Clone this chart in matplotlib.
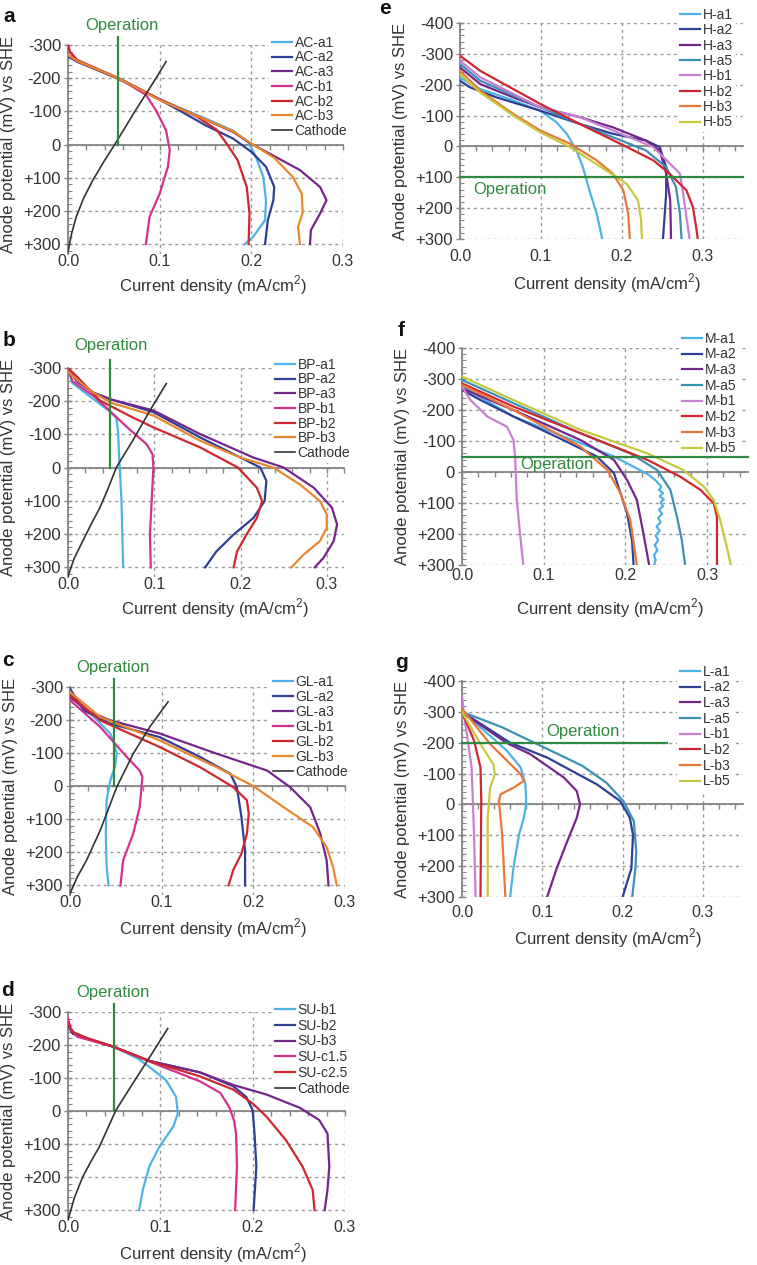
import matplotlib.pyplot as plt
from matplotlib.ticker import MultipleLocator

plt.rcParams['font.family'] = ['Liberation Sans', 'DejaVu Sans']
plt.rcParams['mathtext.fontset'] = 'custom'
plt.rcParams['mathtext.rm'] = 'Liberation Sans'

# ---------------- data (current density mA/cm2, anode potential mV vs SHE) ----------------
# panel a : activated carbon
a_labels = ['AC-a1', 'AC-a2', 'AC-a3', 'AC-b1', 'AC-b2', 'AC-b3', 'Cathode']
a_x = [
    [0, 0.01, 0.055, 0.1, 0.15, 0.18, 0.197, 0.205, 0.213, 0.216, 0.215, 0.202, 0.193],
    [0, 0.01, 0.055, 0.09, 0.12, 0.15, 0.18, 0.2, 0.216, 0.225, 0.224, 0.218, 0.215],
    [0, 0.01, 0.055, 0.1, 0.15, 0.18, 0.2, 0.225, 0.253, 0.275, 0.282, 0.275, 0.265, 0.264],
    [0, 0.002, 0.01, 0.055, 0.085, 0.096, 0.107, 0.111, 0.109, 0.1, 0.089, 0.085],
    [0, 0.002, 0.01, 0.055, 0.1, 0.14, 0.162, 0.173, 0.185, 0.195, 0.198, 0.197],
    [0, 0.01, 0.055, 0.1, 0.15, 0.18, 0.2, 0.225, 0.245, 0.255, 0.256, 0.251, 0.253],
    [0, 0.004, 0.009, 0.017, 0.027, 0.039, 0.051, 0.073, 0.096, 0.107],
]
a_y = [
    [-268, -250, -200, -136, -78, -42, -5, 37, 97, 168, 228, 278, 300],
    [-265, -250, -198, -150, -105, -58, -18, 22, 67, 128, 168, 228, 300],
    [-270, -250, -200, -136, -75, -38, -2, 35, 77, 128, 168, 208, 258, 300],
    [-300, -280, -252, -200, -150, -103, -43, 17, 67, 148, 218, 300],
    [-300, -280, -255, -200, -136, -85, -45, -3, 47, 128, 208, 300],
    [-270, -252, -200, -134, -75, -40, -3, 40, 97, 148, 205, 248, 300],
    [323, 268, 218, 162, 108, 52, 0, -100, -200, -250],
]
a_op = 0.0545

# panel b : black pigment
b_labels = ['BP-a1', 'BP-a2', 'BP-a3', 'BP-b1', 'BP-b2', 'BP-b3', 'Cathode']
b_x = [
    [0, 0.005, 0.03, 0.048, 0.056, 0.058, 0.059, 0.06, 0.062, 0.063, 0.064],
    [0, 0.01, 0.03, 0.05, 0.099, 0.153, 0.2, 0.223, 0.23, 0.228, 0.215, 0.192, 0.172, 0.159],
    [0, 0.01, 0.03, 0.05, 0.099, 0.153, 0.215, 0.25, 0.285, 0.306, 0.312, 0.308, 0.296, 0.286],
    [0, 0.005, 0.03, 0.048, 0.065, 0.08, 0.091, 0.098, 0.099, 0.097, 0.095, 0.096],
    [0, 0.01, 0.037, 0.075, 0.099, 0.153, 0.197, 0.219, 0.225, 0.219, 0.207, 0.196, 0.192],
    [0, 0.01, 0.03, 0.05, 0.099, 0.153, 0.2, 0.238, 0.269, 0.292, 0.3, 0.3, 0.292, 0.273, 0.259],
    [0, 0.007, 0.017, 0.027, 0.037, 0.047, 0.056, 0.075, 0.095, 0.114],
]
b_y = [
    [-300, -255, -205, -170, -150, -110, -50, 0, 100, 200, 300],
    [-300, -260, -225, -205, -167, -91, -30, 0, 40, 101, 152, 202, 253, 301],
    [-300, -262, -225, -205, -172, -101, -30, 0, 61, 121, 172, 222, 273, 301],
    [-300, -260, -215, -172, -130, -95, -71, -40, 0, 101, 202, 301],
    [-300, -275, -202, -151, -121, -61, 0, 61, 101, 152, 202, 253, 301],
    [-290, -265, -225, -195, -157, -81, -30, 0, 51, 101, 141, 182, 222, 263, 301],
    [328, 275, 222, 170, 121, 60, 0, -81, -172, -253],
]
b_op = 0.0487

# panel c : graphite
c_labels = ['GL-a1', 'GL-a2', 'GL-a3', 'GL-b1', 'GL-b2', 'GL-b3', 'Cathode']
c_x = [
    [0, 0.015, 0.044, 0.047, 0.051, 0.049, 0.044, 0.04, 0.039, 0.04, 0.042],
    [0, 0.015, 0.044, 0.098, 0.142, 0.175, 0.182, 0.187, 0.191, 0.191],
    [0, 0.018, 0.044, 0.098, 0.16, 0.215, 0.24, 0.262, 0.273, 0.28, 0.282],
    [0, 0.033, 0.062, 0.076, 0.079, 0.078, 0.076, 0.069, 0.058, 0.055],
    [0, 0.033, 0.098, 0.142, 0.178, 0.193, 0.195, 0.193, 0.187, 0.178, 0.173],
    [0, 0.033, 0.098, 0.16, 0.2, 0.233, 0.265, 0.28, 0.287, 0.291],
    [0, 0.008, 0.018, 0.033, 0.051, 0.069, 0.087, 0.107],
]
c_y = [
    [-280, -240, -159, -138, -98, -58, -17, 43, 144, 245, 301],
    [-295, -229, -189, -148, -88, -37, 3, 94, 195, 301],
    [-270, -229, -199, -159, -98, -47, 3, 64, 144, 225, 301],
    [-260, -179, -88, -47, -27, 3, 64, 144, 225, 301],
    [-275, -199, -118, -57, 3, 43, 84, 144, 205, 255, 301],
    [-285, -209, -138, -57, 0, 64, 124, 185, 245, 301],
    [326, 275, 225, 134, 3, -98, -179, -255],
]
c_op = 0.048

# panel d : soot
d_labels = ['SU-b1', 'SU-b2', 'SU-b3', 'SU-c1.5', 'SU-c2.5', 'Cathode']
d_x = [
    [0, 0.005, 0.02, 0.049, 0.075, 0.088, 0.106, 0.117, 0.119, 0.114, 0.099, 0.088, 0.081, 0.077],
    [0, 0.005, 0.02, 0.049, 0.088, 0.143, 0.179, 0.193, 0.2, 0.202, 0.204, 0.201],
    [0, 0.005, 0.02, 0.049, 0.088, 0.143, 0.179, 0.215, 0.251, 0.272, 0.281, 0.283, 0.281, 0.278],
    [0, 0.003, 0.01, 0.049, 0.088, 0.143, 0.165, 0.175, 0.18, 0.182, 0.183, 0.181],
    [0, 0.005, 0.02, 0.049, 0.088, 0.143, 0.179, 0.2, 0.215, 0.236, 0.254, 0.265, 0.267],
    [0, 0.007, 0.016, 0.025, 0.034, 0.052, 0.07, 0.088, 0.108],
]
d_y = [
    [-255, -235, -220, -195, -160, -134, -94, -43, 7, 47, 108, 168, 239, 300],
    [-265, -235, -220, -195, -152, -117, -75, -43, -3, 68, 168, 300],
    [-260, -235, -220, -195, -152, -117, -79, -50, -10, 27, 68, 168, 239, 300],
    [-280, -250, -225, -195, -150, -90, -55, -10, 30, 68, 168, 300],
    [-265, -240, -222, -195, -152, -105, -65, -23, 17, 88, 168, 239, 300],
    [330, 262, 199, 152, 108, -3, -83, -161, -250],
]
d_op = 0.05

# panel e : H series
e_labels = ['H-a1', 'H-a2', 'H-a3', 'H-a5', 'H-b1', 'H-b2', 'H-b3', 'H-b5']
e_x = [
    [0, 0.025, 0.066, 0.099, 0.119, 0.132, 0.144, 0.152, 0.16, 0.169, 0.176],
    [0, 0.012, 0.045, 0.099, 0.148, 0.189, 0.23, 0.247, 0.255, 0.255, 0.253, 0.251],
    [0, 0.025, 0.066, 0.099, 0.148, 0.189, 0.23, 0.247, 0.255, 0.26, 0.261],
    [0, 0.025, 0.099, 0.148, 0.189, 0.23, 0.255, 0.267, 0.272, 0.274],
    [0, 0.025, 0.099, 0.148, 0.189, 0.239, 0.272, 0.276, 0.28, 0.284],
    [0, 0.025, 0.099, 0.148, 0.198, 0.239, 0.259, 0.28, 0.288, 0.292, 0.294],
    [0, 0.025, 0.066, 0.099, 0.136, 0.169, 0.189, 0.202, 0.208, 0.21],
    [0, 0.025, 0.066, 0.099, 0.136, 0.181, 0.206, 0.22, 0.224, 0.225],
]
e_y = [
    [-223, -186, -149, -116, -79, -41, 13, 67, 142, 217, 300],
    [-213, -192, -159, -116, -73, -41, -19, 2, 67, 153, 228, 300],
    [-256, -202, -159, -127, -95, -62, -19, 13, 88, 174, 300],
    [-267, -213, -127, -73, -30, 13, 67, 131, 217, 300],
    [-278, -224, -127, -95, -52, 2, 88, 153, 228, 300],
    [-294, -245, -138, -73, -9, 45, 88, 142, 196, 260, 300],
    [-245, -181, -105, -52, -9, 45, 88, 142, 217, 300],
    [-235, -175, -100, -46, 2, 78, 121, 174, 239, 300],
]
e_op = 100

# panel f : M series
f_labels = ['M-a1', 'M-a2', 'M-a3', 'M-a5', 'M-b1', 'M-b2', 'M-b3', 'M-b5']
f_x = [
    [0, 0.063, 0.145, 0.186, 0.218, 0.229, 0.236, 0.241, 0.244, 0.241, 0.246, 0.242, 0.247,
     0.243, 0.246, 0.241, 0.245, 0.24, 0.243, 0.238, 0.242, 0.237, 0.24, 0.236, 0.239,
     0.235, 0.237, 0.235],
    [0, 0.022, 0.063, 0.124, 0.165, 0.186, 0.194, 0.202, 0.208, 0.21],
    [0, 0.063, 0.145, 0.186, 0.202, 0.214, 0.222, 0.229],
    [0, 0.063, 0.145, 0.206, 0.239, 0.255, 0.263, 0.269, 0.273],
    [0, 0.01, 0.031, 0.055, 0.063, 0.065, 0.067, 0.071, 0.075],
    [0, 0.063, 0.145, 0.227, 0.267, 0.292, 0.308, 0.312, 0.312, 0.312],
    [0, 0.063, 0.145, 0.178, 0.194, 0.206, 0.214],
    [0, 0.063, 0.145, 0.227, 0.271, 0.296, 0.308, 0.316, 0.324, 0.329],
]
f_y = [
    [-276, -179, -93, -50, -6, 10, 25, 38, 48, 58, 68, 78, 88, 98, 110, 122, 135, 148,
     162, 176, 190, 205, 220, 236, 252, 268, 284, 300],
    [-265, -233, -179, -103, -50, 4, 69, 133, 220, 300],
    [-270, -200, -103, -39, 26, 90, 198, 300],
    [-297, -222, -125, -60, -6, 58, 144, 220, 300],
    [-276, -233, -179, -146, -103, -50, 90, 198, 300],
    [-286, -211, -125, -39, 15, 58, 101, 144, 198, 300],
    [-281, -200, -82, -6, 69, 155, 300],
    [-308, -232, -136, -60, -6, 47, 90, 155, 241, 300],
]
f_op = -50

# panel g : L series
g_labels = ['L-a1', 'L-a2', 'L-a3', 'L-a5', 'L-b1', 'L-b2', 'L-b3', 'L-b5']
g_x = [
    [0, 0.023, 0.056, 0.073, 0.079, 0.08, 0.077, 0.071, 0.064, 0.06],
    [0, 0.06, 0.106, 0.168, 0.197, 0.209, 0.213, 0.211, 0.2],
    [0, 0.055, 0.085, 0.127, 0.143, 0.147, 0.143, 0.131, 0.118, 0.106],
    [0, 0.05, 0.09, 0.15, 0.18, 0.201, 0.214, 0.217, 0.216, 0.212],
    [0, 0.002, 0.006, 0.012, 0.015, 0.017],
    [0, 0.015, 0.023, 0.024, 0.023],
    [0, 0.035, 0.073, 0.077, 0.064, 0.048, 0.046, 0.05, 0.054],
    [0, 0.023, 0.039, 0.041, 0.035, 0.032, 0.032],
]
g_y = [
    [-300, -250, -174, -120, -65, 0, 43, 98, 207, 300],
    [-300, -200, -152, -65, -11, 43, 98, 207, 300],
    [-300, -200, -163, -87, -43, 0, 43, 120, 207, 300],
    [-300, -250, -200, -125, -70, -11, 54, 152, 207, 300],
    [-350, -300, -228, -120, 98, 300],
    [-300, -207, -120, -11, 300],
    [-310, -196, -98, -76, -54, -33, -11, 98, 300],
    [-300, -196, -130, -98, -54, 43, 300],
]
g_op = -200

# ---------------- styling ----------------
W, H = 757, 1265
TXT = '#333333'
AXC = '#858585'
GRN = '#2f8a3f'
col_ac = ['#4db3e6', '#2f3f95', '#74268a', '#d3308f', '#cf2630', '#e8872e', '#333333']
col_su = ['#4db3e6', '#2f3f95', '#74268a', '#d3308f', '#cf2630', '#333333']
col_m = ['#4db3e6', '#2f3f95', '#74268a', '#3d90b3', '#c880d0', '#cf2630', '#e8783a', '#c6c93a']

fig = plt.figure(figsize=(W / 100, H / 100), dpi=100)


def fx(px):
    return px / W


def fy(py):
    return 1 - py / H


def panel(letter, box, xmax, ylim, labels, xs, ys, colors, op, op_text, leg, xlab, pad):
    l, r, t, b = box
    ax = fig.add_axes([fx(l), fy(b), (r - l) / W, (b - t) / H])
    for lab, x, y, c in zip(labels, xs, ys, colors):
        lw = 1.2 if lab == 'Cathode' else 1.6
        ax.plot(x, y, color=c, lw=lw, label=lab, zorder=3)
    ax.set_xlim(0, xmax)
    ax.set_ylim(*ylim)
    top = ylim[1]
    yt = list(range(top, 301, 100))
    ax.set_yticks(yt)
    ax.set_yticklabels([('+%d' % v if v > 0 else str(v)) for v in yt])
    ax.yaxis.set_minor_locator(MultipleLocator(20))
    ax.set_xticks([0, 0.1, 0.2, 0.3])
    ax.xaxis.set_minor_locator(MultipleLocator(0.02))
    ax.grid(True, which='major', color='#9a9a9a', lw=1.0, ls=(0, (2.2, 2.6)))
    for s in ['top', 'right']:
        ax.spines[s].set_visible(False)
    ax.spines['bottom'].set_position(('data', 0))
    for s in ['left', 'bottom']:
        ax.spines[s].set_color(AXC)
        ax.spines[s].set_linewidth(1.3)
    ax.tick_params(axis='x', which='both', labelbottom=False, direction='out',
                   length=3.5, width=1, color=AXC)
    ax.tick_params(axis='y', which='major', direction='inout', length=6, width=1,
                   color=AXC, labelsize=12, labelcolor=TXT, pad=2)
    ax.tick_params(axis='y', which='minor', direction='in', length=3, width=0.8, color=AXC)
    sec = ax.secondary_xaxis('bottom')
    sec.set_xticks([0, 0.1, 0.2, 0.3])
    sec.set_xticklabels(['0.0', '0.1', '0.2', '0.3'])
    sec.tick_params(length=0, pad=pad, labelsize=11.5, labelcolor=TXT)
    sec.spines['bottom'].set_visible(False)

    # operation marker
    if op[0] == 'v':
        ax.plot([op[1], op[1]], [-325, 0], color=GRN, lw=1.6, clip_on=False, zorder=4)
        ax.text(op_text[0], op_text[1], 'Operation', color=GRN, fontsize=12,
                ha='center', va='center', clip_on=False)
    else:
        ax.plot([0, op[2]], [op[1], op[1]], color=GRN, lw=1.6, clip_on=False, zorder=4)
        ax.text(op_text[0], op_text[1], 'Operation', color=GRN, fontsize=12,
                ha='left', va='center')

    # white legend box hides the grid but stays under the curves
    lg = ax.legend(loc='upper left', bbox_to_anchor=(fx(leg[0] - 3), fy(leg[1] - 3)),
                   bbox_transform=fig.transFigure, frameon=True, fontsize=10,
                   handlelength=1.45, handletextpad=0.2, labelspacing=leg[2],
                   borderpad=0.2, borderaxespad=0, labelcolor=TXT, fancybox=False)
    lg.get_frame().set_facecolor('white')
    lg.get_frame().set_edgecolor('none')
    lg.get_frame().set_alpha(1)
    lg.set_zorder(2)

    fig.text(fx(l - 59), fy(xlab[2]), 'Anode potential (mV) vs SHE', rotation=90,
             ha='center', va='center', fontsize=12, color=TXT)
    fig.text(fx(xlab[0]), fy(xlab[1]), 'Current density (mA/cm$^{2}$)',
             ha='center', va='center', fontsize=12, color=TXT)
    fig.text(fx(letter[1]), fy(letter[2]), letter[0], fontsize=15, fontweight='bold',
             ha='center', va='center', color='#111111')
    return ax


yl_ad = (330, -300)
yl_eg = (300, -400)

panel(('a', 9, 17), (68, 343, 45, 254), 0.3, yl_ad, a_labels, a_x, a_y, col_ac,
      ('v', a_op), (0.059, -360), (272, 36, 0.05), (213, 285, 144), 0)
panel(('b', 9, 340), (68, 344, 368, 577), 0.32, yl_ad, b_labels, b_x, b_y, col_ac,
      ('v', b_op), (0.05, -369), (275, 358, 0.05), (215, 608, 467), 0)
panel(('c', 8, 660), (70, 345, 687, 895), 0.3, yl_ad, c_labels, c_x, c_y, col_ac,
      ('v', c_op), (0.047, -358), (273, 675, 0.07), (213, 928, 786), 0)
panel(('d', 8, 991), (68, 345, 1012, 1220), 0.3, yl_ad, d_labels, d_x, d_y, col_su,
      ('v', d_op), (0.049, -360), (275, 1003, 0.13), (213, 1253, 1111), 0)
panel(('e', 385, 9), (460, 743, 23, 239), 0.35, yl_eg, e_labels, e_x, e_y, col_m,
      ('h', e_op, 0.35), (0.016, 138), (680, 8, 0.1), (607, 283, 131), 7.5)
panel(('f', 401, 331), (462, 748, 348, 565), 0.35, yl_eg, f_labels, f_x, f_y, col_m,
      ('h', f_op, 0.35), (0.071, -23), (682, 332, 0.12), (610, 608, 456), 2)
panel(('g', 401, 662), (462, 743, 681, 897), 0.35, yl_eg, g_labels, g_x, g_y, col_m,
      ('h', g_op, 0.255), (0.105, -235), (680, 665, 0.12), (608, 938, 789), 6)

fig.savefig('out.png', dpi=100, facecolor='white')
